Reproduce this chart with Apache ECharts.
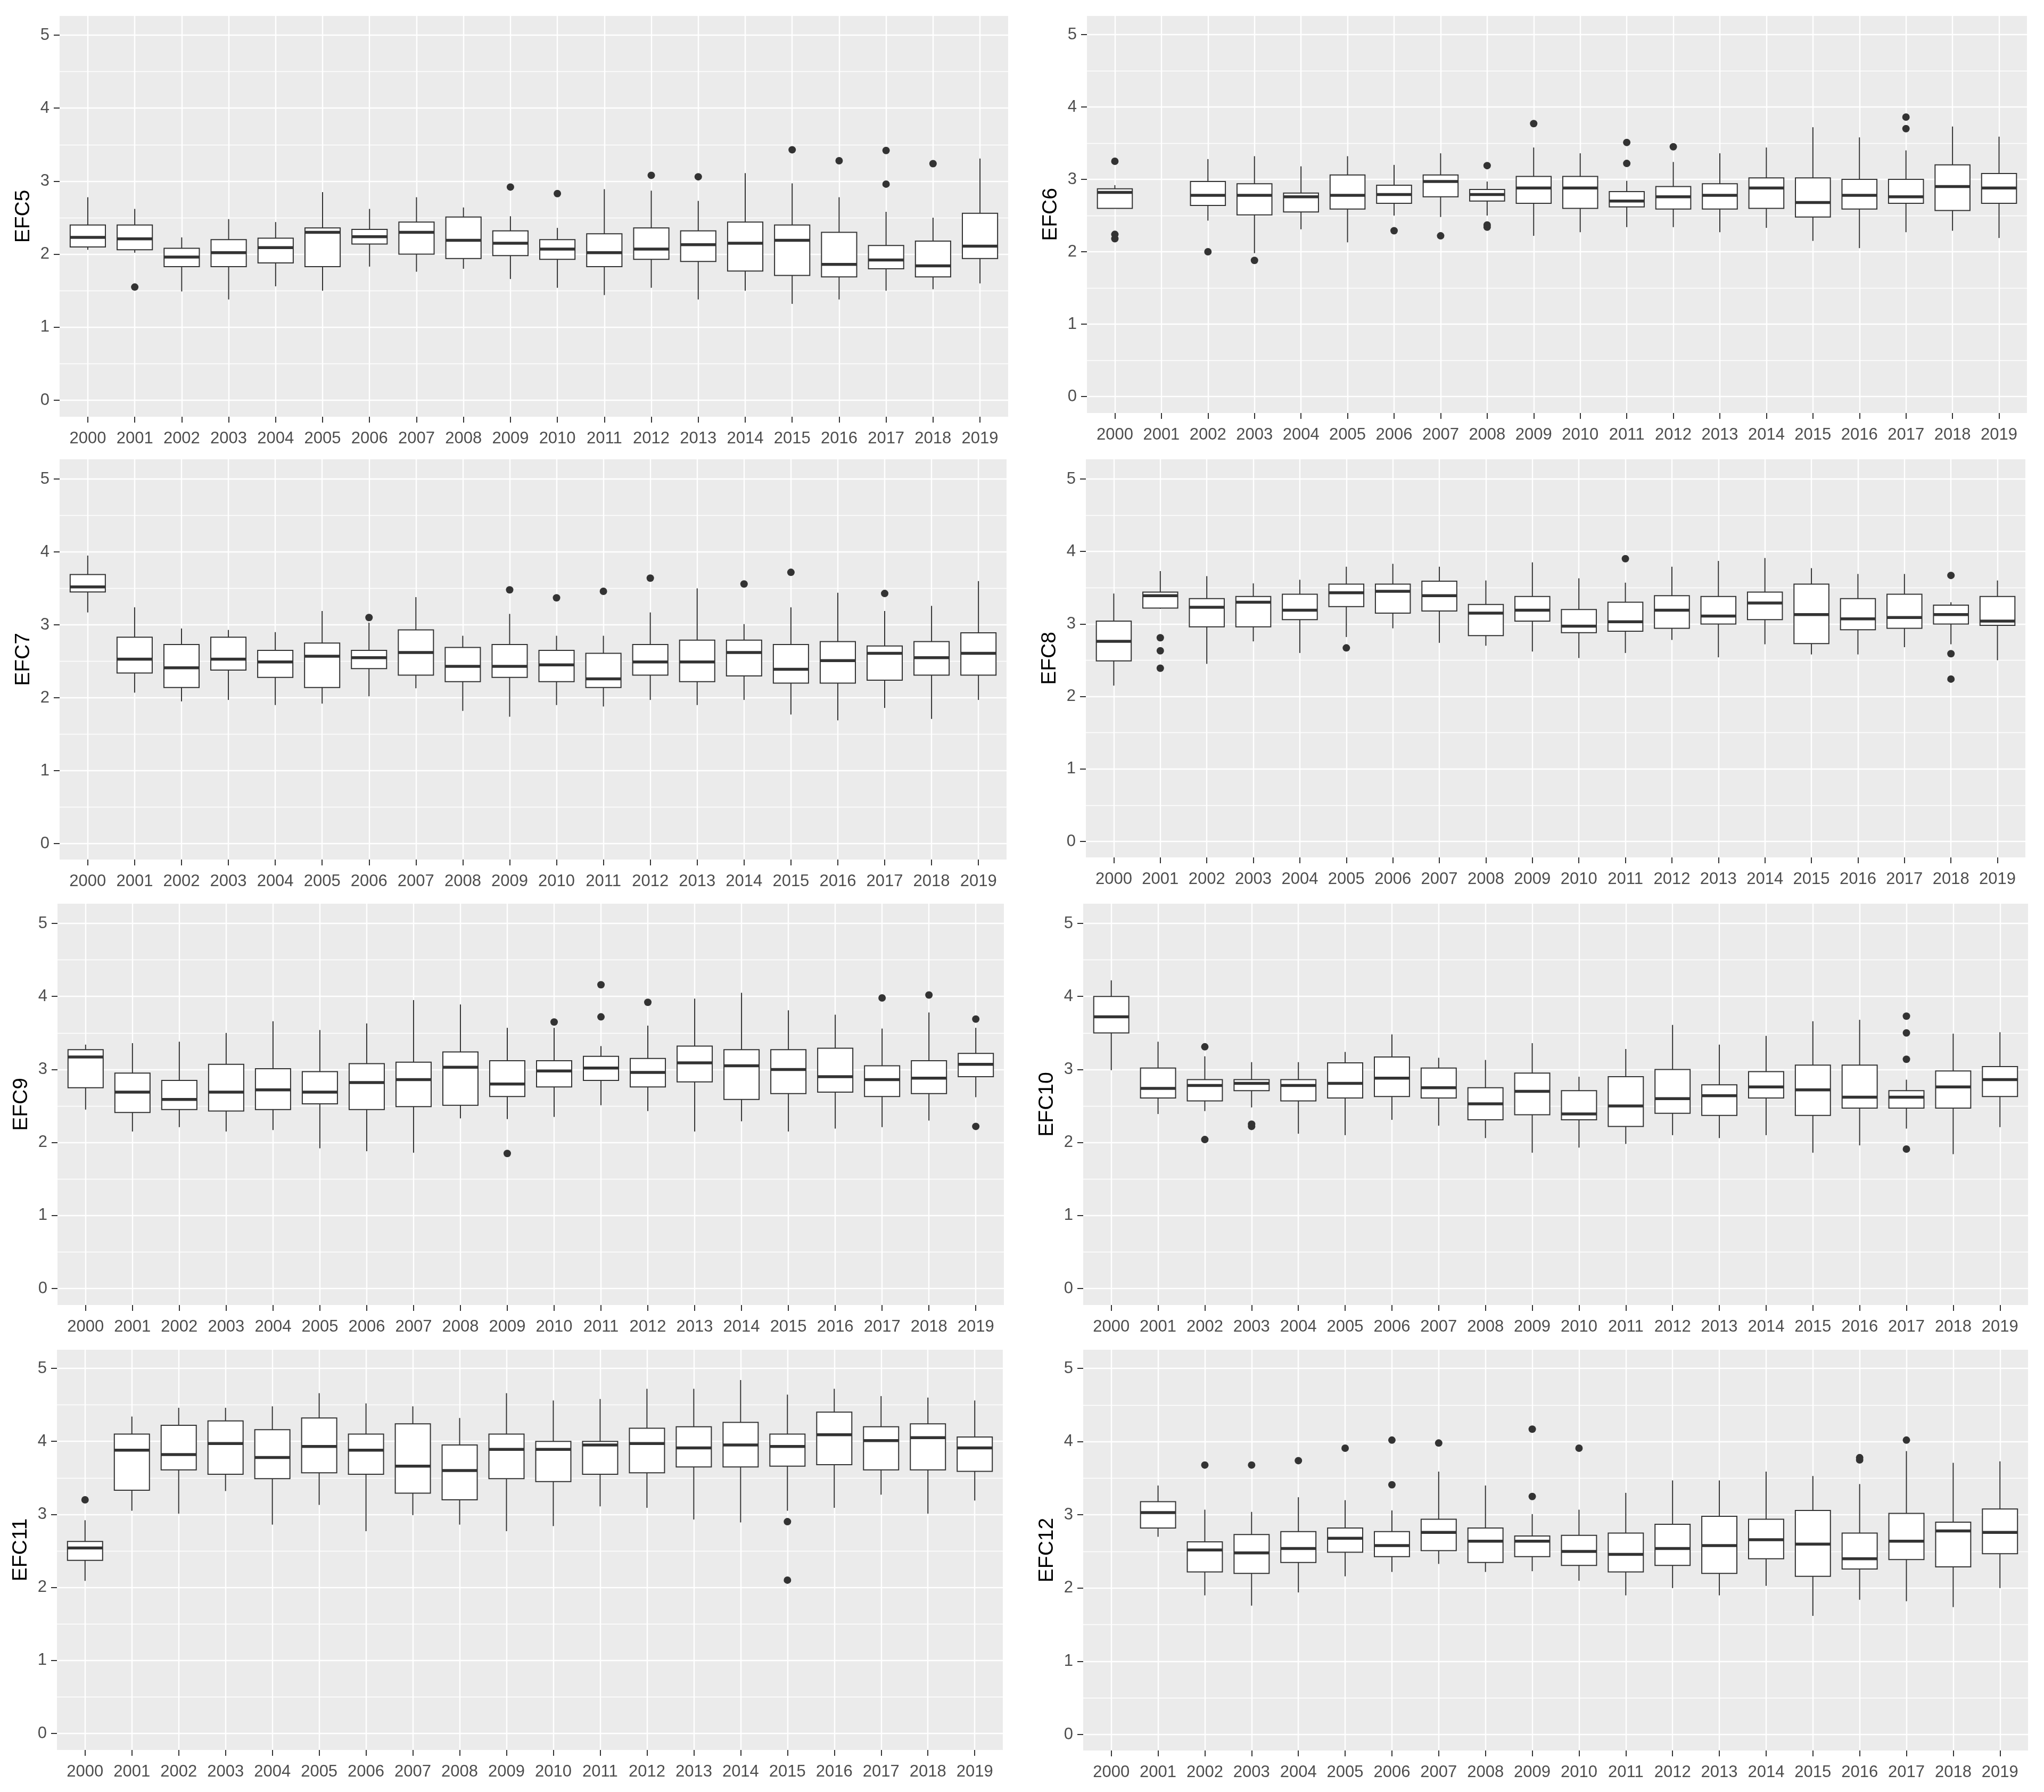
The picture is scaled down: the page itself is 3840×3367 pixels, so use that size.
<!DOCTYPE html>
<html>
<head>
<meta charset="utf-8">
<script src="https://cdn.jsdelivr.net/npm/echarts@6/dist/echarts.min.js"></script>
<style>
html,body{margin:0;padding:0;background:#fff;}
#chart{width:3840px;height:3367px;}
</style>
</head>
<body>
<div id="chart"></div>
<script>
// ---------- DATA ----------
const YEARS = ['2000','2001','2002','2003','2004','2005','2006','2007','2008','2009',
               '2010','2011','2012','2013','2014','2015','2016','2017','2018','2019'];
const Y_TICKS = [0, 1, 2, 3, 4, 5];
const PANEL_NAMES = ['EFC5','EFC6','EFC7','EFC8','EFC9','EFC10','EFC11','EFC12'];

// each row: [lower whisker, Q1, median, Q3, upper whisker]; null = no data
const EFC5_box = [
 [2.06,2.10,2.23,2.40,2.78],[2.02,2.06,2.21,2.40,2.62],[1.49,1.83,1.96,2.08,2.23],[1.38,1.83,2.02,2.20,2.48],
 [1.56,1.88,2.09,2.22,2.44],[1.50,1.83,2.30,2.36,2.85],[1.83,2.14,2.24,2.34,2.62],[1.76,2.00,2.30,2.44,2.78],
 [1.80,1.94,2.19,2.51,2.64],[1.66,1.98,2.15,2.32,2.52],[1.54,1.93,2.07,2.20,2.36],[1.44,1.83,2.02,2.28,2.89],
 [1.54,1.93,2.07,2.36,2.87],[1.38,1.90,2.13,2.32,2.73],[1.50,1.77,2.15,2.44,3.11],[1.32,1.71,2.19,2.40,2.97],
 [1.38,1.69,1.86,2.30,2.78],[1.50,1.80,1.92,2.12,2.58],[1.52,1.69,1.84,2.18,2.50],[1.60,1.94,2.11,2.56,3.31]];
const EFC5_out = [['2001',1.55],['2009',2.92],['2010',2.83],['2012',3.08],['2013',3.06],['2015',3.43],
 ['2016',3.28],['2017',3.42],['2017',2.96],['2018',3.24]];

const EFC6_box = [
 [2.60,2.60,2.82,2.87,2.92],null,[2.43,2.64,2.78,2.97,3.28],[1.98,2.51,2.78,2.94,3.32],
 [2.31,2.55,2.76,2.81,3.18],[2.13,2.59,2.78,3.06,3.32],[2.50,2.67,2.79,2.92,3.20],[2.48,2.76,2.97,3.06,3.36],
 [2.50,2.70,2.79,2.86,2.97],[2.22,2.67,2.88,3.04,3.44],[2.27,2.60,2.88,3.04,3.36],[2.34,2.62,2.70,2.83,2.98],
 [2.34,2.59,2.76,2.90,3.24],[2.27,2.59,2.78,2.94,3.36],[2.33,2.60,2.88,3.02,3.44],[2.15,2.48,2.68,3.02,3.72],
 [2.05,2.59,2.78,3.00,3.58],[2.27,2.67,2.76,3.00,3.40],[2.29,2.57,2.90,3.20,3.73],[2.19,2.67,2.88,3.08,3.59]];
const EFC6_out = [['2000',3.25],['2000',2.24],['2000',2.18],['2002',2.00],['2003',1.88],['2006',2.29],
 ['2007',2.22],['2008',3.19],['2008',2.37],['2008',2.34],['2009',3.77],['2011',3.51],['2011',3.22],
 ['2012',3.45],['2017',3.86],['2017',3.70]];

const EFC7_box = [
 [3.17,3.45,3.52,3.69,3.95],[2.07,2.34,2.53,2.83,3.24],[1.95,2.14,2.41,2.73,2.95],[1.97,2.38,2.53,2.83,2.93],
 [1.90,2.28,2.49,2.65,2.90],[1.92,2.14,2.57,2.75,3.19],[2.02,2.40,2.55,2.65,3.03],[2.13,2.31,2.62,2.93,3.38],
 [1.82,2.22,2.43,2.69,2.85],[1.74,2.28,2.43,2.73,3.15],[1.90,2.22,2.45,2.65,2.85],[1.88,2.14,2.26,2.61,2.85],
 [1.97,2.31,2.49,2.73,3.17],[1.90,2.22,2.49,2.79,3.50],[1.97,2.30,2.62,2.79,3.01],[1.77,2.20,2.39,2.73,3.24],
 [1.69,2.20,2.51,2.77,3.44],[1.86,2.24,2.61,2.71,3.19],[1.71,2.31,2.55,2.77,3.26],[1.97,2.31,2.61,2.89,3.60]];
const EFC7_out = [['2006',3.10],['2009',3.48],['2010',3.37],['2011',3.46],['2012',3.64],['2014',3.56],
 ['2015',3.72],['2017',3.43]];

const EFC8_box = [
 [2.15,2.49,2.76,3.04,3.42],[3.21,3.22,3.39,3.44,3.73],[2.45,2.96,3.23,3.35,3.66],[2.76,2.96,3.30,3.38,3.56],
 [2.60,3.06,3.19,3.41,3.61],[2.82,3.24,3.43,3.55,3.79],[2.94,3.15,3.45,3.55,3.83],[2.74,3.18,3.39,3.59,3.79],
 [2.70,2.84,3.15,3.27,3.60],[2.62,3.04,3.19,3.38,3.85],[2.53,2.88,2.97,3.20,3.63],[2.60,2.90,3.03,3.30,3.57],
 [2.78,2.94,3.19,3.39,3.79],[2.54,3.00,3.11,3.38,3.87],[2.72,3.06,3.29,3.44,3.91],[2.58,2.73,3.13,3.55,3.77],
 [2.58,2.92,3.07,3.35,3.69],[2.68,2.94,3.09,3.41,3.69],[2.72,3.00,3.13,3.26,3.30],[2.50,2.98,3.04,3.38,3.60]];
const EFC8_out = [['2001',2.81],['2001',2.63],['2001',2.39],['2005',2.67],['2011',3.90],
 ['2018',3.67],['2018',2.59],['2018',2.24]];

const EFC9_box = [
 [2.45,2.75,3.17,3.27,3.34],[2.15,2.41,2.69,2.95,3.36],[2.21,2.45,2.59,2.85,3.38],[2.15,2.43,2.69,3.07,3.50],
 [2.17,2.45,2.72,3.01,3.66],[1.92,2.53,2.69,2.97,3.54],[1.88,2.45,2.82,3.08,3.63],[1.86,2.49,2.86,3.10,3.95],
 [2.33,2.51,3.03,3.24,3.89],[2.32,2.63,2.80,3.12,3.57],[2.35,2.76,2.98,3.12,3.57],[2.51,2.85,3.02,3.18,3.32],
 [2.43,2.76,2.96,3.15,3.60],[2.15,2.83,3.09,3.32,3.97],[2.29,2.59,3.05,3.27,4.05],[2.15,2.67,3.00,3.27,3.81],
 [2.19,2.69,2.90,3.29,3.75],[2.21,2.63,2.86,3.05,3.56],[2.30,2.67,2.88,3.12,3.78],[2.62,2.90,3.07,3.22,3.57]];
const EFC9_out = [['2009',1.85],['2010',3.65],['2011',4.16],['2011',3.72],['2012',3.92],['2017',3.98],
 ['2018',4.02],['2019',3.69],['2019',2.22]];

const EFC10_box = [
 [2.99,3.50,3.72,4.00,4.22],[2.39,2.61,2.74,3.02,3.38],[2.43,2.57,2.78,2.86,3.18],[2.48,2.71,2.81,2.86,3.10],
 [2.12,2.57,2.78,2.86,3.10],[2.10,2.61,2.81,3.09,3.24],[2.31,2.63,2.88,3.17,3.48],[2.23,2.61,2.75,3.02,3.16],
 [2.06,2.31,2.53,2.75,3.13],[1.86,2.38,2.70,2.95,3.36],[1.93,2.31,2.39,2.71,2.90],[1.98,2.22,2.50,2.90,3.28],
 [2.10,2.40,2.60,3.00,3.61],[2.06,2.37,2.64,2.79,3.34],[2.10,2.61,2.76,2.97,3.46],[1.86,2.37,2.72,3.06,3.66],
 [1.96,2.47,2.62,3.06,3.68],[2.19,2.47,2.62,2.71,2.86],[1.84,2.47,2.76,2.98,3.49],[2.21,2.63,2.86,3.04,3.51]];
const EFC10_out = [['2002',3.31],['2002',2.04],['2003',2.25],['2003',2.22],['2017',3.73],['2017',3.50],
 ['2017',3.14],['2017',1.91]];

const EFC11_box = [
 [2.09,2.37,2.54,2.63,2.92],[3.05,3.33,3.88,4.10,4.34],[3.01,3.61,3.82,4.22,4.46],[3.32,3.55,3.97,4.28,4.46],
 [2.86,3.49,3.78,4.16,4.48],[3.13,3.57,3.93,4.32,4.66],[2.77,3.55,3.88,4.10,4.52],[2.99,3.29,3.66,4.24,4.48],
 [2.86,3.20,3.60,3.95,4.32],[2.77,3.49,3.89,4.10,4.66],[2.84,3.45,3.89,4.00,4.56],[3.11,3.55,3.95,4.00,4.58],
 [3.09,3.57,3.97,4.18,4.72],[2.93,3.65,3.91,4.20,4.72],[2.89,3.65,3.95,4.26,4.84],[3.05,3.66,3.93,4.10,4.64],
 [3.09,3.68,4.09,4.40,4.72],[3.27,3.61,4.01,4.20,4.62],[3.01,3.61,4.05,4.24,4.60],[3.19,3.59,3.91,4.06,4.56]];
const EFC11_out = [['2000',3.20],['2015',2.90],['2015',2.10]];

const EFC12_box = [
 null,[2.70,2.82,3.03,3.18,3.40],[1.90,2.22,2.52,2.63,3.07],[1.76,2.20,2.48,2.73,3.04],
 [1.94,2.35,2.54,2.77,3.24],[2.16,2.49,2.68,2.82,3.20],[2.22,2.43,2.58,2.77,3.06],[2.33,2.51,2.76,2.94,3.59],
 [2.22,2.35,2.64,2.82,3.40],[2.23,2.43,2.64,2.71,3.01],[2.10,2.31,2.50,2.72,3.07],[1.90,2.22,2.46,2.75,3.30],
 [2.00,2.31,2.54,2.87,3.47],[1.90,2.20,2.58,2.98,3.47],[2.03,2.40,2.66,2.94,3.59],[1.62,2.16,2.60,3.06,3.53],
 [1.84,2.26,2.40,2.75,3.42],[1.82,2.39,2.64,3.02,3.87],[1.74,2.29,2.78,2.90,3.71],[2.00,2.47,2.76,3.08,3.73]];
const EFC12_out = [['2002',3.68],['2003',3.68],['2004',3.74],['2005',3.91],['2006',4.02],['2006',3.41],
 ['2007',3.98],['2009',4.17],['2009',3.25],['2010',3.91],['2016',3.78],['2016',3.75],['2017',4.02]];

const BOXES = [EFC5_box, EFC6_box, EFC7_box, EFC8_box, EFC9_box, EFC10_box, EFC11_box, EFC12_box];
const OUTS  = [EFC5_out, EFC6_out, EFC7_out, EFC8_out, EFC9_out, EFC10_out, EFC11_out, EFC12_out];

// ---------- LAYOUT (pixels) ----------
// L, R: panel left/right; T, B: panel top/bottom; y5, y0: pixel rows of values 5 and 0
const PANELS = [
 {L:112, R:1894, T:30,   B:783,  y5:66,   y0:752},
 {L:2042,R:3808, T:30,   B:776,  y5:65,   y0:745},
 {L:112, R:1891, T:863,  B:1615, y5:900,  y0:1585},
 {L:2040,R:3805, T:863,  B:1611, y5:900,  y0:1581},
 {L:108, R:1886, T:1698, B:2452, y5:1735, y0:2421},
 {L:2035,R:3810, T:1698, B:2452, y5:1735, y0:2421},
 {L:107, R:1884, T:2536, B:3288, y5:2571, y0:3257},
 {L:2035,R:3810, T:2536, B:3289, y5:2571, y0:3259}
];

const FONT = '"Liberation Sans", Arial, sans-serif';
const INK = '#333333';
const TXT = '#4D4D4D';

function renderBox(params, api) {
  const i = api.value(0);
  const lo = api.coord([i, api.value(1)]);
  const q1 = api.coord([i, api.value(2)]);
  const md = api.coord([i, api.value(3)]);
  const q3 = api.coord([i, api.value(4)]);
  const hi = api.coord([i, api.value(5)]);
  const hw = api.size([1, 0])[0] * 0.375;
  const x = md[0];
  return {
    type: 'group',
    children: [
      {type:'line', shape:{x1:x, y1:q3[1], x2:x, y2:hi[1]}, style:{stroke:INK, lineWidth:2}},
      {type:'line', shape:{x1:x, y1:q1[1], x2:x, y2:lo[1]}, style:{stroke:INK, lineWidth:2}},
      {type:'rect', shape:{x:x-hw, y:q3[1], width:2*hw, height:q1[1]-q3[1]},
       style:{fill:'#ffffff', stroke:INK, lineWidth:2}},
      {type:'line', shape:{x1:x-hw, y1:md[1], x2:x+hw, y2:md[1]}, style:{stroke:INK, lineWidth:5.5}}
    ]
  };
}

const grid = [], xAxis = [], yAxis = [], series = [], graphic = [];

PANELS.forEach(function (p, k) {
  const W = p.R - p.L;
  const u = W / 20.2;
  const innerL = p.L + 0.6 * u;
  const innerW = 19 * u;
  const base = grid.length;

  // 0: background
  grid.push({left:p.L, top:p.T, width:W, height:p.B - p.T, show:true,
             backgroundColor:'#EBEBEB', borderWidth:0});
  xAxis.push({gridIndex:base, type:'value', show:false, min:0, max:1});
  yAxis.push({gridIndex:base, type:'value', show:false, min:0, max:1});

  // 1: horizontal grid lines + y axis ticks/labels
  grid.push({left:p.L, top:p.y5, width:W, height:p.y0 - p.y5});
  xAxis.push({gridIndex:base+1, type:'value', show:false, min:0, max:1});
  yAxis.push({gridIndex:base+1, type:'value', min:Y_TICKS[0], max:Y_TICKS[Y_TICKS.length-1], interval:1,
    axisLine:{show:false, onZero:false},
    axisTick:{show:true, length:11, lineStyle:{color:INK, width:2}},
    axisLabel:{show:true, fontSize:31, color:TXT, fontFamily:FONT, margin:19},
    splitLine:{show:true, lineStyle:{color:'#ffffff', width:2.4}},
    minorTick:{show:false, splitNumber:2},
    minorSplitLine:{show:true, lineStyle:{color:'#ffffff', width:1.3}}
  });

  // 2: vertical grid lines + x axis ticks/labels
  grid.push({left:innerL, top:p.T, width:innerW, height:p.B - p.T});
  xAxis.push({gridIndex:base+2, type:'category', data:YEARS, boundaryGap:false,
    axisLine:{show:false, onZero:false},
    axisTick:{show:true, interval:0, length:11, lineStyle:{color:INK, width:2}},
    axisLabel:{show:true, interval:0, fontSize:31, color:TXT, fontFamily:FONT, margin:26},
    splitLine:{show:true, interval:0, lineStyle:{color:'#ffffff', width:2.4}}
  });
  yAxis.push({gridIndex:base+2, type:'value', show:false, min:0, max:1});

  // 3: data
  grid.push({left:innerL, top:p.y5, width:innerW, height:p.y0 - p.y5});
  xAxis.push({gridIndex:base+3, type:'category', data:YEARS, boundaryGap:false, show:false});
  yAxis.push({gridIndex:base+3, type:'value', show:false, min:0, max:5});

  const boxData = [];
  BOXES[k].forEach(function (row, i) {
    if (row) boxData.push([i].concat(row));
  });
  series.push({
    type:'custom', xAxisIndex:base+3, yAxisIndex:base+3, renderItem:renderBox,
    encode:{x:0, y:[1,2,3,4,5]}, data:boxData, z:3, silent:true
  });
  series.push({
    type:'scatter', xAxisIndex:base+3, yAxisIndex:base+3, symbol:'circle', symbolSize:14,
    itemStyle:{color:INK, opacity:1}, z:4, silent:true,
    data:OUTS[k].map(function (o) { return [YEARS.indexOf(o[0]), o[1]]; })
  });

  // axis title
  graphic.push({type:'text', x:p.L - 68, y:(p.T + p.B) / 2, rotation:Math.PI / 2,
    style:{text:PANEL_NAMES[k], font:'39px ' + FONT, fill:'#000000', align:'center', verticalAlign:'middle'}});
});

const chart = echarts.init(document.getElementById('chart'), null, {renderer:'canvas'});
chart.setOption({
  animation:false,
  backgroundColor:'#ffffff',
  grid:grid, xAxis:xAxis, yAxis:yAxis, series:series, graphic:graphic
});
</script>
</body>
</html>
